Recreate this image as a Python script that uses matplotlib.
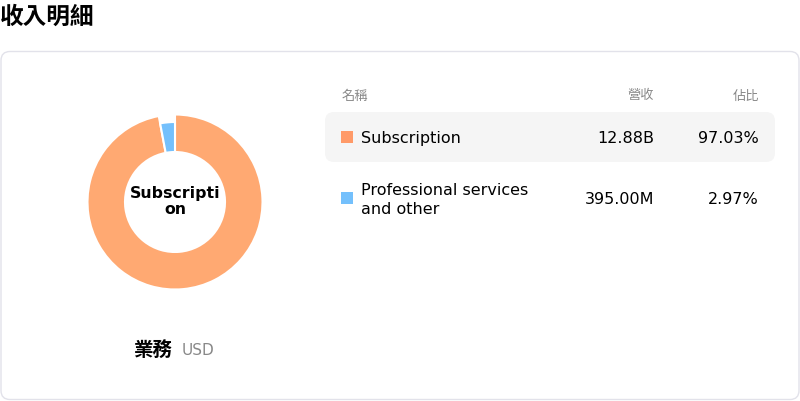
import matplotlib
matplotlib.use("Agg")
import matplotlib.pyplot as plt
from matplotlib.patches import FancyBboxPatch, Rectangle

plt.rcParams['font.family'] = ['DejaVu Sans', 'Noto Sans CJK TC']

# data
title = "收入明細"
headers = ["名稱", "營收", "佔比"]
segments = ["Subscription", "Professional services\nand other"]
revenue = [12.88e9, 395.00e6]
revenue_labels = ["12.88B", "395.00M"]
shares = ["97.03%", "2.97%"]
colors = ["#FFA972", "#74C0FC"]
legend_colors = ["#FF9A68", "#74C0FC"]
center_label = "Subscription"
footer = ("業務", "USD")

W, H = 800, 402
fig = plt.figure(figsize=(W / 100, H / 100), dpi=100)

bg = fig.add_axes([0, 0, 1, 1])
bg.set_xlim(0, W)
bg.set_ylim(H, 0)
bg.axis("off")

bg.text(0, 17, title, fontsize=17, fontweight="bold", va="center", ha="left")

card = FancyBboxPatch((1, 52.5), 798, 348, boxstyle="round,pad=0,rounding_size=9",
                      fc="white", ec="#E2E2EA", lw=1)
bg.add_patch(card)

# table
gray = "#888888"
bg.text(342, 96, headers[0], fontsize=9.5, color=gray, va="center", ha="left")
bg.text(654, 96, headers[1], fontsize=9.5, color=gray, va="center", ha="right")
bg.text(759, 96, headers[2], fontsize=9.5, color=gray, va="center", ha="right")

row_y = [139, 200]
bg.add_patch(FancyBboxPatch((325, 113), 450, 50, boxstyle="round,pad=0,rounding_size=9",
                            fc="#F5F5F5", ec="none"))
for i, name in enumerate(segments):
    y = row_y[i]
    bg.add_patch(Rectangle((341, y - 7), 12, 12, fc=legend_colors[i], ec="none"))
    bg.text(361, y, name, fontsize=11.5, va="center", ha="left", linespacing=1.3)
    bg.text(654, y, revenue_labels[i], fontsize=11.5, va="center", ha="right")
    bg.text(759, y, shares[i], fontsize=11.5, va="center", ha="right")

# footer
bg.text(173, 351, footer[0], fontsize=14, fontweight="bold", va="center", ha="right")
bg.text(182, 351, footer[1], fontsize=11, color=gray, va="center", ha="left")

# donut
cx, cy, size = 175, 203, 200
ax = fig.add_axes([(cx - size / 2) / W, 1 - (cy + size / 2) / H, size / W, size / H])
wedges, _ = ax.pie(revenue, colors=colors, startangle=90, counterclock=False,
                   radius=0.875, wedgeprops=dict(width=0.375, edgecolor="white", linewidth=1.5))
wedges[1].set_radius(0.80)
wedges[1].set_width(0.30)
ax.set_xlim(-1, 1)
ax.set_ylim(-1, 1)
ax.set_aspect("equal")
ax.axis("off")

ax.text(0, 0.09, center_label[:10], fontsize=11.3, fontweight="bold", ha="center", va="center")
ax.text(0, -0.07, center_label[10:], fontsize=11.3, fontweight="bold", ha="center", va="center")

fig.savefig("out.png", dpi=100)
